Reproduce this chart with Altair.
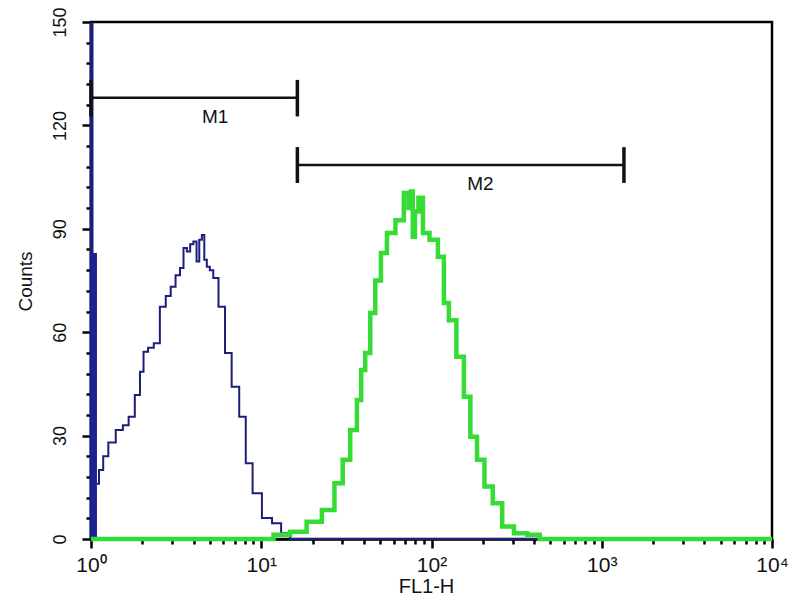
import altair as alt
import pandas as pd

# ---- data (FL1-H value, counts) ----
blue_x = [1.08, 1.15, 1.21, 1.32, 1.48, 1.60, 1.73, 1.89, 1.99, 2.08, 2.25, 2.43, 2.65, 2.85,
          3.03, 3.25, 3.42, 3.57, 3.75, 3.90, 4.09, 4.25, 4.40, 4.56, 4.70, 4.88, 5.10, 5.36,
          5.87, 6.39, 7.03, 7.84, 8.39, 9.43, 10.8, 12.4, 13.8, 15.8, 10000]
blue_y = [16, 20, 24, 28, 31.6, 33, 35.5, 41.8, 48.5, 54.3, 55.5, 56.8, 67.4, 70.5,
          73.2, 76.5, 78.6, 84.4, 83.4, 85.5, 86.3, 80.5, 86.8, 88.2, 81, 79, 78, 75.7,
          67.4, 54, 44.2, 35.5, 22, 13.3, 6.1, 4.6, 1.7, 0, 0]

spike_x = [1.0]
spike_x2 = [1.084]
spike_y = [83]

green_x = [1.0, 10.8, 12.9, 16.9, 20.2, 25.5, 28.4, 31.9, 34.8, 38.2, 39.1, 42.6, 44.8, 48.8,
           52.2, 57.4, 65.7, 72.0, 74.5, 77.0, 78.3, 81.6, 86.1, 92.2, 102.8, 115.6, 120.9,
           132.3, 148.2, 162.0, 176.6, 194.0, 216.0, 243.0, 278.6, 334.0, 398.0, 469.0, 10000]
green_y = [0, 0, 1.2, 2.1, 5, 8.4, 16.2, 23, 31.6, 40.3, 49, 54, 65.6, 75,
           83, 88.8, 92.5, 100.4, 96, 100.8, 87.7, 95, 99, 88.8, 86.8, 81.9, 68.5,
           63.5, 52.9, 41.3, 29.7, 23, 15.2, 10.4, 3.6, 1.7, 1.2, 0, 0]

gate_names = ["M1", "M2"]
gate_start = [1.0, 16.3]
gate_end = [16.3, 1350.0]
gate_level = [128, 108.5]
gate_low = [122.6, 103.3]
gate_high = [133.2, 113.7]
gate_label_x = [5.36, 194.0]
gate_label_y = [122.5, 103.0]

x_ticks = [m * 10 ** e for e in range(4) for m in range(1, 10)] + [10000]
y_ticks = list(range(0, 151, 6))

FONT = "Liberation Sans"
NAVY = "#1b1f7a"
GREEN = "#36dc36"
XT = "FL1-H"
YT = "Counts"

blue_df = pd.DataFrame({"x": blue_x, "y": blue_y})
green_df = pd.DataFrame({"x": green_x, "y": green_y})
spike_df = pd.DataFrame({"x": spike_x, "x2": spike_x2, "y": spike_y})
gates = pd.DataFrame({"name": gate_names, "x0": gate_start, "x1": gate_end, "y": gate_level,
                      "ylo": gate_low, "yhi": gate_high, "lx": gate_label_x, "ly": gate_label_y})
ends = pd.concat([
    gates[["x0", "ylo", "yhi"]].rename(columns={"x0": "x"}),
    gates[["x1", "ylo", "yhi"]].rename(columns={"x1": "x"}),
])

xscale = alt.Scale(type="log", domain=[1, 10000], nice=False)
yscale = alt.Scale(domain=[0, 150], nice=False, zero=True)

x_axis = alt.Axis(
    values=x_ticks,
    labelExpr="datum.value == 1 ? '10⁰' : datum.value == 10 ? '10¹' : datum.value == 100 ? '10²' : datum.value == 1000 ? '10³' : datum.value == 10000 ? '10⁴' : ''",
    tickSize={"condition": {"test": "datum.value == 1 || datum.value == 10 || datum.value == 100 || datum.value == 1000 || datum.value == 10000", "value": 9}, "value": 5},
    tickWidth=2.5, tickColor="black",
    domainColor="black", domainWidth=2.5,
    labelFont=FONT, labelFontSize=21, labelColor="#111", labelOverlap=False, labelFlush=False,
    labelBaseline="alphabetic", labelPadding=23,
    title=XT, titleFont=FONT, titleFontSize=20, titleFontWeight="normal", titleColor="#111",
    titleX=335, titleY=53, titleBaseline="alphabetic", titleAnchor="start", titleAlign="center",
    grid=False,
)
y_axis = alt.Axis(
    values=y_ticks,
    labelExpr="datum.value % 30 === 0 ? datum.label : ''",
    tickSize={"condition": {"test": "datum.value % 30 === 0", "value": 9}, "value": 5},
    tickWidth=2.5, tickColor="black",
    domainColor=NAVY, domainWidth=4,
    labelFont=FONT, labelFontSize=18, labelColor="#111", labelOverlap=False, labelFlush=False,
    labelAngle=270, labelAlign="center", labelBaseline="alphabetic", labelPadding=17,
    title=YT, titleFont=FONT, titleFontSize=19, titleFontWeight="normal", titleColor="#111",
    titleAngle=270, titleX=-66, titleY=259, titleAlign="center", titleBaseline="middle",
    grid=False,
)


def X(field):
    return alt.X(field, type="quantitative", scale=xscale, axis=x_axis)


def Y(field):
    return alt.Y(field, type="quantitative", scale=yscale, axis=y_axis)


blue = alt.Chart(blue_df).mark_line(color=NAVY, strokeWidth=2, interpolate="step").encode(
    x=X("x"), y=Y("y"),
)
spike = alt.Chart(spike_df).mark_rect(color="#1c2296").encode(
    x=X("x"), x2="x2:Q", y=Y("y"), y2=alt.datum(0),
)
green = alt.Chart(green_df).mark_line(color=GREEN, strokeWidth=4.5, interpolate="step").encode(
    x=X("x"), y=Y("y"),
)
hbar = alt.Chart(gates).mark_rule(color="#111", strokeWidth=2.5).encode(
    x=X("x0"), x2="x1:Q", y=Y("y"),
)
vbar = alt.Chart(ends).mark_rule(color="#111", strokeWidth=3.5).encode(
    x=X("x"), y=Y("ylo"), y2="yhi:Q",
)
labels = alt.Chart(gates).mark_text(font=FONT, fontSize=19, color="#111", align="center", baseline="middle").encode(
    x=X("lx"), y=Y("ly"), text="name:N",
)

chart = alt.layer(blue, spike, green, hbar, vbar, labels).properties(
    width=681, height=517,
    background="white",
    autosize=alt.AutoSizeParams(type="none"),
    padding={"left": 83, "top": 14, "right": 20, "bottom": 64},
).configure_view(stroke="black", strokeWidth=2.5).configure_axis(labelOverlap=False)

chart.save("out.html", embed_options={"renderer": "svg", "actions": False})
